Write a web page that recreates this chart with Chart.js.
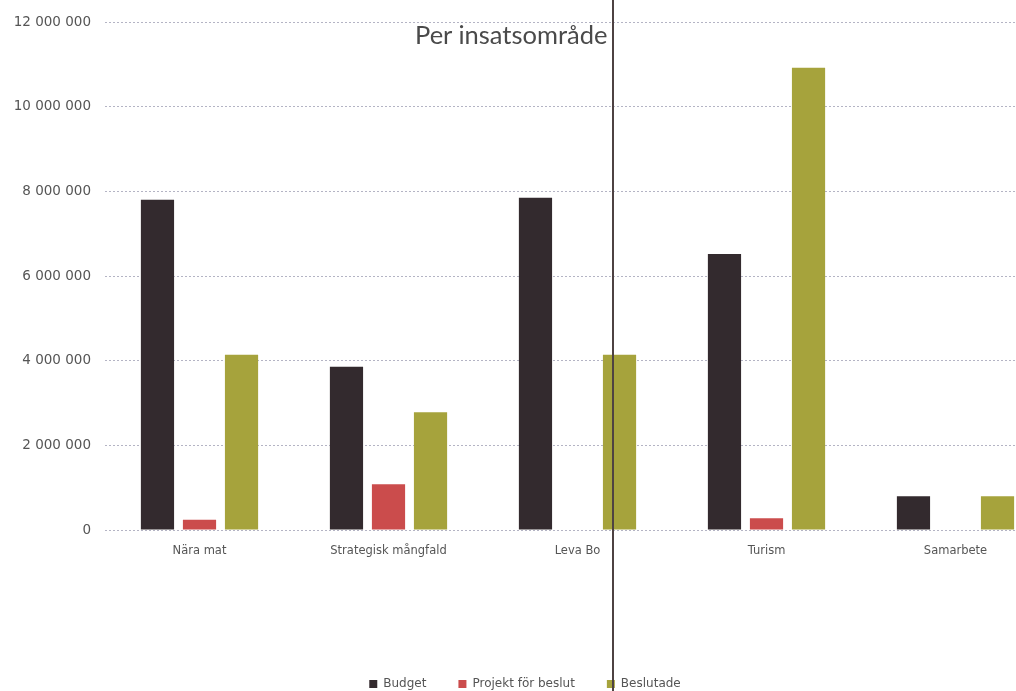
<!DOCTYPE html>
<html>
<head>
<meta charset="utf-8">
<script src="https://cdn.jsdelivr.net/npm/chart.js@4.4.0/dist/chart.umd.min.js"></script>
<style>
  html, body { margin: 0; padding: 0; background: #fff; overflow: hidden; }
  #wrap { position: relative; width: 1060px; height: 691px; }
  #titel {
    position: absolute; left: 415px; top: 19px;
    font-family: Lato, "Open Sans", sans-serif; font-size: 25.5px; color: #4a4a4a;
  }
  /* mörk lodrät linje i originalbilden */
  #linje { position: absolute; left: 612px; top: 0; width: 2px; height: 691px; background: #4e4242; }
</style>
</head>
<body>
<div id="wrap">
  <canvas id="myChart"></canvas>
  <div id="titel">Per insatsområde</div>
  <div id="linje"></div>
</div>
<script>
// data
const kategorier = ["Nära mat", "Strategisk mångfald", "Leva Bo", "Turism", "Samarbete"];
const budget = [7800000, 3860000, 7850000, 6520000, 800000];
const projektForBeslut = [240000, 1080000, 0, 280000, 0];
const beslutade = [4140000, 2780000, 4140000, 10920000, 800000];

const ctx = document.getElementById("myChart").getContext("2d");

// tusentalsavgränsare med mellanslag
function formatera(v) {
    return String(v).replace(/\B(?=(\d{3})+(?!\d))/g, " ");
}

const config = {
    type: "bar",
    data: {
        labels: kategorier,
        datasets: [
            { label: "Budget", data: budget, backgroundColor: "#332a2e" },
            { label: "Projekt för beslut", data: projektForBeslut, backgroundColor: "#cb4c4c" },
            { label: "Beslutade", data: beslutade, backgroundColor: "#a6a33c" },
        ],
    },
    options: {
        responsive: false,
        animation: false,
        datasets: { bar: { categoryPercentage: 0.667, barPercentage: 0.79 } },
        layout: { padding: { top: 15, right: 10, bottom: -9, left: 0 } },
        plugins: {
            legend: {
                position: "bottom",
                labels: {
                    boxWidth: 8, boxHeight: 8, padding: 32, color: "#555",
                    font: { family: "DejaVu Sans", size: 12 },
                },
            },
            tooltip: { enabled: false },
        },
        scales: {
            x: {
                grid: { display: false },
                border: { display: false },
                ticks: { color: "#555", padding: 6, font: { family: "DejaVu Sans", size: 11.5 } },
                afterFit: (s) => { s.height = 116; },
            },
            y: {
                min: 0, max: 12000000,
                grid: { color: "#b4b4c4", drawTicks: false },
                border: { display: false, dash: [2, 2] },
                ticks: {
                    stepSize: 2000000, color: "#555", padding: 14,
                    font: { family: "DejaVu Sans", size: 13.5 },
                    callback: (v) => formatera(v),
                },
                afterFit: (s) => { s.width = 105; },
            },
        },
    },
};

const canvas = document.getElementById("myChart");
canvas.width = 1060;
canvas.height = 691;
window.chartDOM = new Chart(ctx, config);
</script>
</body>
</html>
